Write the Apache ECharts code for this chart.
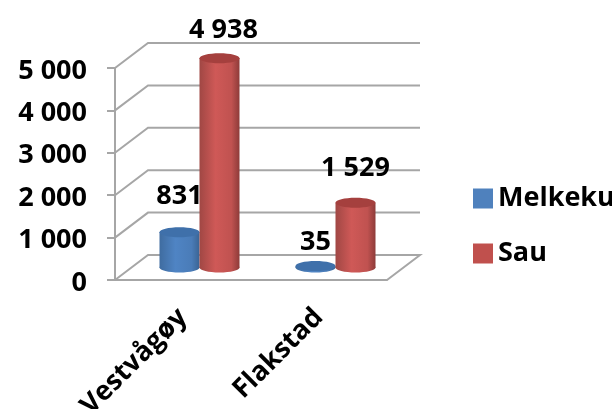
<!DOCTYPE html>
<html>
<head>
<meta charset="utf-8">
<style>
  html, body { margin: 0; padding: 0; background: #fff; }
  #chart { width: 612px; height: 409px; }
</style>
<script src="https://cdn.jsdelivr.net/npm/echarts@6/dist/echarts.min.js"></script>
</head>
<body>
<div id="chart"></div>
<script>
const categories = ["Vestvågøy", "Flakstad"];
const melkeku = [831, 35];
const sau = [4938, 1529];
const gridTicks = [0, 1000, 2000, 3000, 4000, 5000];

// 3D look: how far the back wall sits from the front plane
const DEPTH_X = 33;
const DEPTH_Y = -25;
const RX = 20;
const RY = 5;
const FONT = "Open Sans";
const FONT_SIZE = 27;
const GREY = "#a6a6a6";

const spaced = (v) => String(v).replace(/\B(?=(\d{3})+$)/g, " ");

const chart = echarts.init(document.getElementById("chart"));

function renderWall(params, api) {
  const cs = params.coordSys;
  const y = api.coord([0, api.value(0)])[1];
  const left = cs.x;
  const right = cs.x + cs.width;
  const points = [
    [left, y],
    [left + DEPTH_X, y + DEPTH_Y],
    [right + DEPTH_X, y + DEPTH_Y],
  ];
  if (api.value(0) === 0) points.push([right, y]);
  return {
    type: "polyline",
    shape: { points },
    style: { fill: null, stroke: GREY, lineWidth: 2 },
  };
}

function cylinder(side, stops, topColor, labelDx, labelDy) {
  return (params, api) => {
    const p = api.coord([api.value(0), api.value(1)]);
    const base = api.coord([api.value(0), 0]);
    const cx = p[0] + DEPTH_X / 2 + side * RX;
    const topY = p[1] + DEPTH_Y / 2;
    const baseY = base[1] + DEPTH_Y / 2;
    const fill = new echarts.graphic.LinearGradient(0, 0, 1, 0, stops);
    return {
      type: "group",
      children: [
        { type: "ellipse", shape: { cx, cy: baseY, rx: RX, ry: RY }, style: { fill } },
        { type: "rect", shape: { x: cx - RX, y: topY, width: RX * 2, height: baseY - topY }, style: { fill } },
        { type: "ellipse", shape: { cx, cy: topY, rx: RX, ry: RY }, style: { fill: topColor } },
        {
          type: "text",
          z2: 10,
          style: {
            x: cx + labelDx[params.dataIndex],
            y: topY + labelDy[params.dataIndex],
            text: spaced(api.value(1)),
            align: "center",
            verticalAlign: "middle",
            fill: "#000",
            font: "bold " + FONT_SIZE + "px " + FONT,
          },
        },
      ],
    };
  };
}

const blueStops = [
  { offset: 0, color: "#3f6ca0" },
  { offset: 0.4, color: "#4f84c4" },
  { offset: 0.8, color: "#4a7cb8" },
  { offset: 1, color: "#3a6494" },
];
const redStops = [
  { offset: 0, color: "#a04744" },
  { offset: 0.4, color: "#cf5957" },
  { offset: 0.8, color: "#c05250" },
  { offset: 1, color: "#8e3b39" },
];

chart.setOption({
  animation: false,
  grid: { left: 115, right: 225, top: 68, bottom: 129, outerBoundsMode: "none" },
  legend: {
    orient: "vertical",
    left: 468,
    top: 180,
    icon: "rect",
    itemWidth: 20,
    itemHeight: 20,
    itemGap: 28,
    data: ["Melkeku", "Sau"],
    textStyle: { fontFamily: FONT, fontWeight: "bold", fontSize: FONT_SIZE, color: "#000", lineHeight: 27 },
  },
  xAxis: {
    type: "category",
    data: categories,
    axisLine: { lineStyle: { color: GREY, width: 2 } },
    axisTick: { length: 11, lineStyle: { color: GREY, width: 2 } },
    axisLabel: {
      rotate: 45,
      interval: 0,
      margin: 33,
      color: "#000",
      fontFamily: FONT,
      fontWeight: "bold",
      fontSize: FONT_SIZE,
    },
  },
  yAxis: {
    type: "value",
    min: 0,
    max: 5000,
    interval: 1000,
    splitLine: { show: false },
    axisLine: { show: true, lineStyle: { color: GREY, width: 2 } },
    axisTick: { show: true, length: 8, lineStyle: { color: GREY, width: 2 } },
    axisLabel: {
      margin: 28,
      formatter: (v) => "{v|" + spaced(v) + "}",
      rich: {
        v: {
          padding: [6, 0, 0, 0],
          color: "#000",
          fontFamily: FONT,
          fontWeight: "bold",
          fontSize: FONT_SIZE,
        },
      },
    },
  },
  series: [
    {
      type: "custom",
      silent: true,
      legendHoverLink: false,
      z: 1,
      encode: { y: 0 },
      data: gridTicks.map((t) => [t]),
      renderItem: renderWall,
    },
    {
      name: "Melkeku",
      type: "custom",
      z: 2,
      itemStyle: { color: "#4f81bd" },
      data: melkeku.map((v, i) => [i, v]),
      encode: { x: 0, y: 1 },
      renderItem: cylinder(-1, blueStops, "#3f70aa", [0, 0], [-36, -24]),
    },
    {
      name: "Sau",
      type: "custom",
      z: 3,
      itemStyle: { color: "#c0504d" },
      data: sau.map((v, i) => [i, v]),
      encode: { x: 0, y: 1 },
      renderItem: cylinder(1, redStops, "#a5403e", [4, 0], [-28, -34]),
    },
  ],
});
</script>
</body>
</html>
